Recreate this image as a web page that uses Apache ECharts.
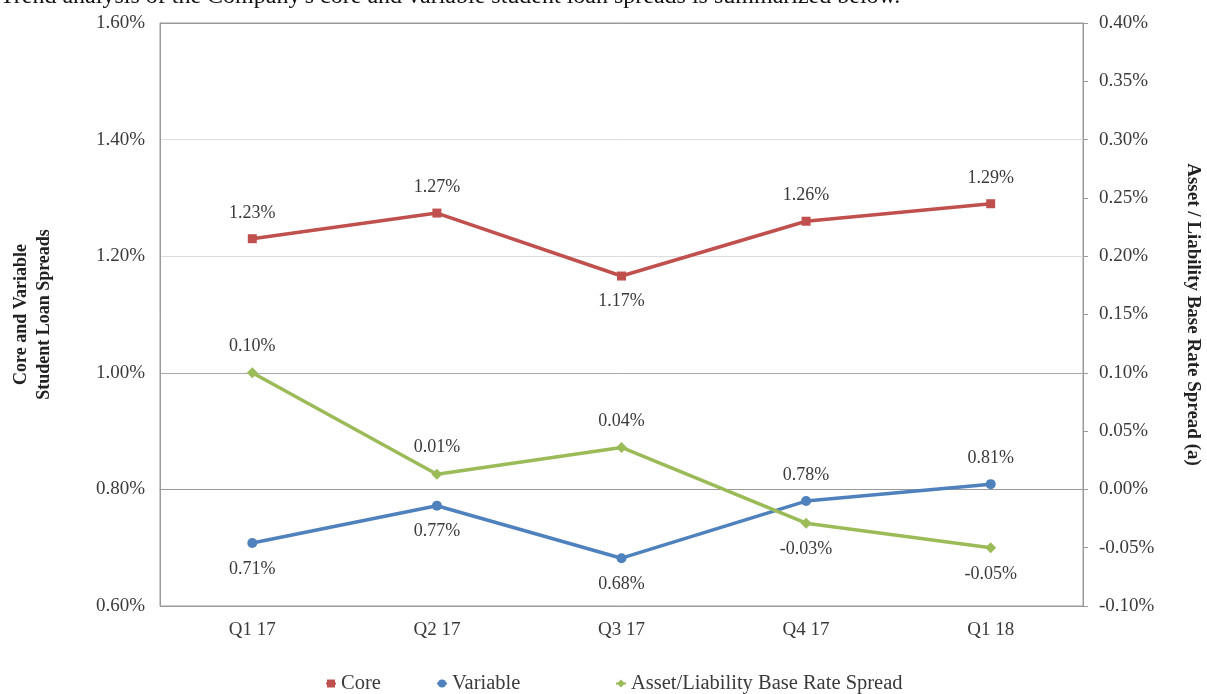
<!DOCTYPE html>
<html>
<head>
<meta charset="utf-8">
<script src="https://cdn.jsdelivr.net/npm/echarts@6/dist/echarts.min.js"></script>
<style>
html,body{margin:0;padding:0;background:#fff;}
#chart{width:1207px;height:694px;}
</style>
</head>
<body>
<div id="chart"></div>
<script>
const categories = ['Q1 17', 'Q2 17', 'Q3 17', 'Q4 17', 'Q1 18'];
const coreValues = [1.23, 1.274, 1.166, 1.26, 1.29];
const variableValues = [0.708, 0.772, 0.682, 0.78, 0.809];
const spreadValues = [0.10, 0.013, 0.036, -0.029, -0.05];
const seriesNames = ['Core', 'Variable', 'Asset/Liability Base Rate Spread'];
const leftAxisTitle = 'Core and Variable\nStudent Loan Spreads';
const rightAxisTitle = 'Asset / Liability Base Rate Spread (a)';
const headerText = "Trend analysis of the Company's core and variable student loan spreads is summarized below.";

// label placement (style, kept separate from values)
const corePlace = ['top', 'top', 'bottom', 'top', 'top'];
const variablePlace = ['bottom', 'bottom', 'bottom', 'top', 'top'];
const spreadPlace = ['top', 'top', 'top', 'bottom', 'bottom'];

const serif = '"Liberation Serif", "DejaVu Serif", serif';
const txt = '#3a3a3a';
const pct = v => v.toFixed(2) + '%';

function withLabels(values, places) {
  return values.map((v, i) => ({
    value: v,
    label: { position: places[i] }
  }));
}

const legendText = { fontFamily: serif, fontSize: 20.5, color: txt };
const chart = echarts.init(document.getElementById('chart'));
const option = {
  animation: false,
  backgroundColor: '#fff',
  graphic: [{
    type: 'text', left: 0, top: -15,
    style: { text: headerText, font: '24px ' + serif, fill: '#111' }
  }],
  grid: { left: 160, right: 124, top: 23, bottom: 88, show: true, borderColor: '#9a9a9a', borderWidth: 1, containLabel: false, outerBoundsMode: 'none' },
  legend: [
    { data: [seriesNames[0]], left: 325, top: 673, itemWidth: 10, itemHeight: 10, textStyle: legendText, padding: 0 },
    { data: [seriesNames[1]], left: 436, top: 673, itemWidth: 10, itemHeight: 10, textStyle: legendText, padding: 0 },
    { data: [seriesNames[2]], left: 615, top: 673, itemWidth: 10, itemHeight: 10, textStyle: legendText, padding: 0 }
  ],
  xAxis: {
    type: 'category',
    data: categories,
    boundaryGap: true,
    axisLine: { lineStyle: { color: '#9a9a9a' } },
    axisTick: { show: false },
    axisLabel: { fontFamily: serif, fontSize: 19, color: txt, margin: 15 }
  },
  yAxis: [{
    type: 'value',
    min: 0.6, max: 1.6, interval: 0.2,
    position: 'left',
    name: leftAxisTitle,
    nameLocation: 'middle',
    nameGap: 104,
    nameTextStyle: { fontFamily: serif, fontSize: 18, fontWeight: 'bold', color: '#222', lineHeight: 23 },
    axisLine: { show: true, lineStyle: { color: '#9a9a9a' } },
    axisTick: { show: false },
    axisLabel: { fontFamily: serif, fontSize: 19, color: txt, margin: 15, formatter: pct },
    splitLine: { show: true, lineStyle: { color: ['#9a9a9a', '#a8a8a8', '#a8a8a8', '#dcdcdc', '#dcdcdc', '#9a9a9a'], width: 1 } }
  }, {
    type: 'value',
    min: -0.1, max: 0.4, interval: 0.05,
    position: 'right',
    name: rightAxisTitle,
    nameLocation: 'middle',
    nameRotate: -90,
    nameGap: 100,
    nameTextStyle: { fontFamily: serif, fontSize: 19, fontWeight: 'bold', color: '#222' },
    axisLine: { show: true, lineStyle: { color: '#9a9a9a' } },
    axisTick: { show: true, inside: false, length: 5, lineStyle: { color: '#9a9a9a' } },
    axisLabel: { fontFamily: serif, fontSize: 19, color: txt, margin: 16, formatter: pct },
    splitLine: { show: false }
  }],
  series: [{
    name: seriesNames[0], type: 'line', yAxisIndex: 0,
    data: withLabels(coreValues, corePlace),
    symbol: 'rect', symbolSize: 9,
    itemStyle: { color: '#C0504D' },
    lineStyle: { color: '#C0504D', width: 3.5 },
    label: { show: true, distance: 12, fontFamily: serif, fontSize: 18, color: txt, formatter: p => pct(p.value) }
  }, {
    name: seriesNames[1], type: 'line', yAxisIndex: 0,
    data: withLabels(variableValues, variablePlace),
    symbol: 'circle', symbolSize: 10,
    itemStyle: { color: '#4F81BD' },
    lineStyle: { color: '#4F81BD', width: 3.5 },
    label: { show: true, distance: 12, fontFamily: serif, fontSize: 18, color: txt, formatter: p => pct(p.value) }
  }, {
    name: seriesNames[2], type: 'line', yAxisIndex: 1,
    data: withLabels(spreadValues, spreadPlace),
    symbol: 'diamond', symbolSize: 11,
    itemStyle: { color: '#9BBB59' },
    lineStyle: { color: '#9BBB59', width: 3.5 },
    label: { show: true, distance: 12, fontFamily: serif, fontSize: 18, color: txt, formatter: p => pct(p.value) }
  }]
};
chart.setOption(option);
</script>
</body>
</html>
